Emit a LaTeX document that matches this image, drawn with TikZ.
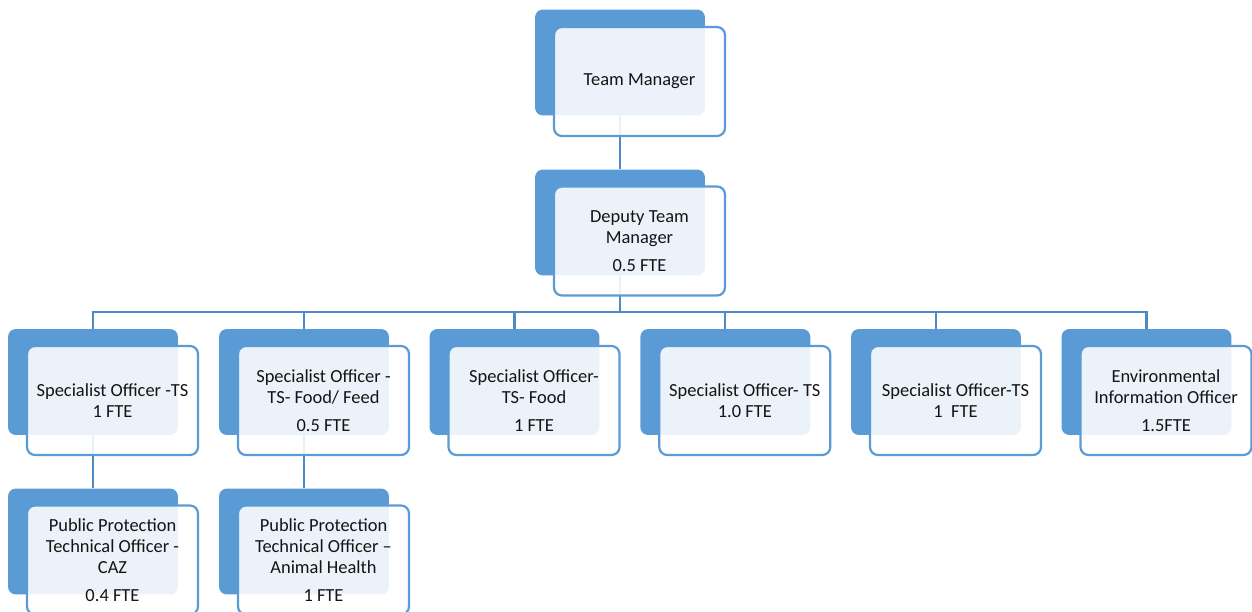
\documentclass[tikz,border=0pt]{standalone}
\usepackage{fontspec}
\setmainfont{Carlito}
\usepackage{tikz}
\usetikzlibrary{backgrounds}
\definecolor{boxblue}{RGB}{91, 155, 213}
\definecolor{linkblue}{RGB}{80, 138, 198}
\definecolor{textdark}{RGB}{20, 20, 20}

\begin{document}
\begin{tikzpicture}[x=0.02cm, y=-0.02cm,
    backbox/.style={fill=boxblue, rounded corners=4.5pt, minimum width=3.4cm, minimum height=2.12cm, inner sep=0pt},
    frontbox/.style={draw=boxblue, line width=1.25pt, fill=white, fill opacity=0.88, text opacity=1,
      rounded corners=4.5pt, minimum width=3.42cm, minimum height=2.18cm, inner sep=0pt,
      align=center, text=textdark, font=\fontsize{10.5}{12}\selectfont},
    link/.style={linkblue, line width=1.25pt}]

  \useasboundingbox (0,0) rectangle (1252,612);
  \clip (0,0) rectangle (1252,612);

  % --- Top ---
  \node[backbox] (tmb) at (620, 62.5) {};
  \node[frontbox] (tm) at (639.5, 81.5) {Team Manager};

  \node[backbox] (dtmb) at (620, 222.5) {};
  \node[frontbox] (dtm) at (639.5, 241) {Deputy Team\\Manager\\[4pt]0.5 FTE};

  % --- Specialist row ---
  \node[backbox] (s1b) at (93, 382) {};
  \node[frontbox] (s1) at (112.5, 400.5) {Specialist Officer -TS\\1 FTE};

  \node[backbox] (s2b) at (304, 382) {};
  \node[frontbox] (s2) at (323.5, 400.5) {Specialist Officer -\\TS- Food/ Feed\\[4pt]0.5 FTE};

  \node[backbox] (s3b) at (514.5, 382) {};
  \node[frontbox] (s3) at (534, 400.5) {Specialist Officer-\\TS- Food\\[4pt]1 FTE};

  \node[backbox] (s4b) at (725.3, 382) {};
  \node[frontbox] (s4) at (744.8, 400.5) {Specialist Officer- TS\\1.0 FTE};

  \node[backbox] (s5b) at (936, 382) {};
  \node[frontbox] (s5) at (955.5, 400.5) {Specialist Officer-TS\\1~~FTE};

  \node[backbox] (s6b) at (1146.5, 382) {};
  \node[frontbox] (s6) at (1166, 400.5) {Environmental\\Information Officer\\[4pt]1.5FTE};

  % --- Technical officers ---
  \node[backbox] (p1b) at (93, 541.5) {};
  \node[frontbox] (p1) at (112.5, 560) {Public Protection\\Technical Officer -\\CAZ\\[4pt]0.4 FTE};

  \node[backbox] (p2b) at (304, 541.5) {};
  \node[frontbox] (p2) at (323.5, 560) {Public Protection\\Technical Officer --\\Animal Health\\[4pt]1 FTE};

  % --- Connectors ---
  \begin{pgfonlayer}{background}
    \coordinate (bus) at (620, 312);
    \draw[link] (tmb.south) -- (dtmb.north);
    \draw[link] (dtmb.south) -- (bus);
    \draw[link] (s1b.north) |- (bus) -| (s6b.north);
    \foreach \n in {s2b, s3b, s4b, s5b}
      \draw[link] (\n.north) -- (\n.north |- bus);
    \draw[link] (s1b.south) -- (p1b.north);
    \draw[link] (s2b.south) -- (p2b.north);
  \end{pgfonlayer}

\end{tikzpicture}
\end{document}
